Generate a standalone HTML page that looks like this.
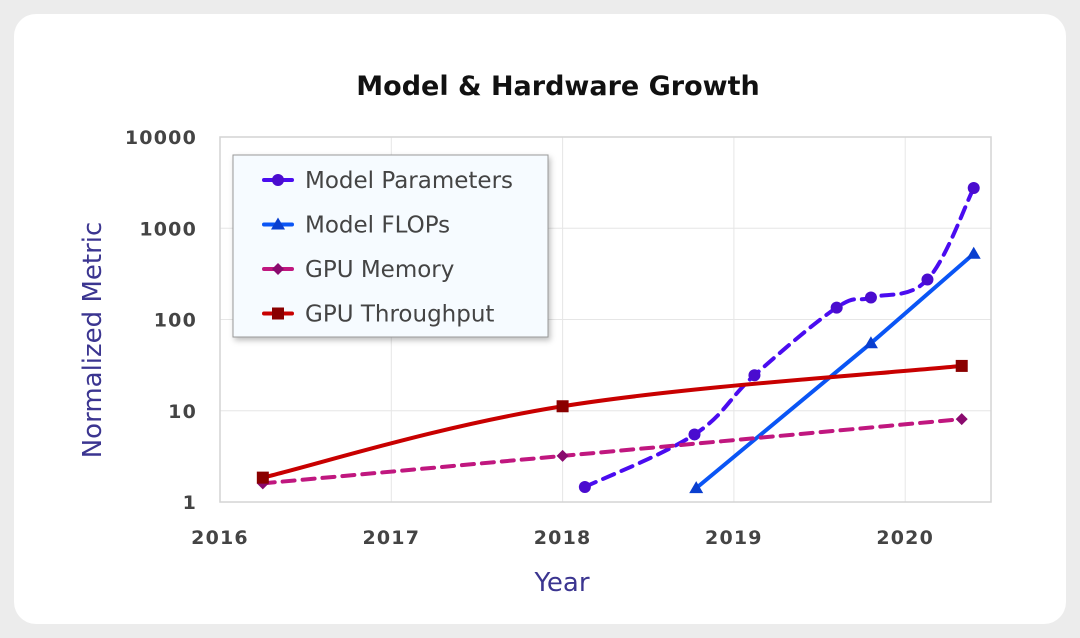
<!DOCTYPE html>
<html><head><meta charset="utf-8"><style>
body{margin:0;background:#ececec;width:1080px;height:638px;overflow:hidden;font-family:"DejaVu Sans","Liberation Sans",sans-serif}
#card{position:absolute;left:14px;top:14px;width:1052px;height:610px;background:#fff;border-radius:22px}
svg{position:absolute;left:0;top:0}
</style></head><body>
<div id="card"></div>
<svg id="c" width="1080" height="638"></svg>
<script>
const yearTicks=[2016,2017,2018,2019,2020];
const valueTicks=[1,10,100,1000,10000];
const paramYears=[2018.13,2018.77,2019.12,2019.6,2019.8,2020.13,2020.4];
const paramValues=[1.46,5.5,24.5,135,174,274,2760];
const flopYears=[2018.78,2019.8,2020.4];
const flopValues=[1.42,55,525];
const memYears=[2016.25,2018,2020.33];
const memValues=[1.6,3.2,8.1];
const tputYears=[2016.25,2018,2020.33];
const tputValues=[1.85,11.2,31];
const L=220,R=991,T=137,B=502;
const X=y=>L+(y-2016)*171.3;
const Y=v=>B-Math.log10(v)*91.25;
const svg=document.getElementById('c');const NS='http://www.w3.org/2000/svg';
function el(t,a,p){const e=document.createElementNS(NS,t);for(const k in a)e.setAttribute(k,a[k]);(p||svg).appendChild(e);return e;}
function txt(s,a){const e=el('text',a);e.textContent=s;return e;}
let t=txt('Model & Hardware Growth',{x:558,y:95,'text-anchor':'middle','font-size':27,'font-weight':'bold',fill:'#111'});


valueTicks.forEach(v=>{const l=el('line',{x1:L,x2:R,y1:Y(v),y2:Y(v),stroke:'#e6e6e6','stroke-width':1});


const tt=txt(String(v),{x:197,y:Y(v)+7,'text-anchor':'end','font-size':19,'font-weight':'bold','letter-spacing':1.2,fill:'#444'});

});
yearTicks.forEach(y=>{const l=el('line',{x1:X(y),x2:X(y),y1:T,y2:B,stroke:'#e6e6e6','stroke-width':1});


const tt=txt(String(y),{x:X(y),y:544,'text-anchor':'middle','font-size':19,'font-weight':'bold','letter-spacing':1.2,fill:'#444'});

});
const fr=el('rect',{x:L,y:T,width:R-L,height:B-T,fill:'none',stroke:'#d4d4d4','stroke-width':1.5});


t=txt('Year',{x:562,y:591,'text-anchor':'middle','font-size':26,fill:'#3b3590'});


t=txt('Normalized Metric',{x:0,y:0,transform:'translate(101,340) rotate(-90)','text-anchor':'middle','font-size':26,fill:'#3b3590'});


function smooth(pts){let d='M'+pts[0][0]+','+pts[0][1];for(let i=0;i<pts.length-1;i++){const p0=pts[i-1]||pts[i],p1=pts[i],p2=pts[i+1],p3=pts[i+2]||p2;const k=0.18;
d+=` C${p1[0]+(p2[0]-p0[0])*k},${p1[1]+(p2[1]-p0[1])*k} ${p2[0]-(p3[0]-p1[0])*k},${p2[1]-(p3[1]-p1[1])*k} ${p2[0]},${p2[1]}`;}return d;}
function marker(type,x,y,c,g){let m;
if(type==='circle')m=el('circle',{cx:x,cy:y,r:6,fill:c},g);
else if(type==='tri')m=el('path',{d:`M${x},${y-7} L${x+7},${y+5} L${x-7},${y+5}Z`,fill:c},g);
else if(type==='diamond')m=el('path',{d:`M${x},${y-6} L${x+6},${y} L${x},${y+6} L${x-6},${y}Z`,fill:c},g);
else m=el('rect',{x:x-6,y:y-6,width:12,height:12,fill:c},g);return m;}
const series=[
{name:'model-parameters',xs:paramYears,vs:paramValues,c:'#4a0cf0',m:'#4a0ccf',dash:'12 8',w:4,mk:'circle',sm:true},
{name:'model-flops',xs:flopYears,vs:flopValues,c:'#0a55f5',m:'#0a3fcf',dash:'',w:4,mk:'tri',sm:false},
{name:'gpu-memory',xs:memYears,vs:memValues,c:'#c0177f',m:'#8a0a6e',dash:'12 8',w:4,mk:'diamond',sm:true},
{name:'gpu-throughput',xs:tputYears,vs:tputValues,c:'#c80000',m:'#8a0000',dash:'',w:4,mk:'square',sm:true}];
series.forEach(s=>{const g=el('g',{});


const pts=s.xs.map((x,i)=>[X(x),Y(s.vs[i])]);
const p=el('path',{d:s.sm?smooth(pts):'M'+pts.map(q=>q.join(',')).join(' L'),fill:'none',stroke:s.c,'stroke-width':s.w,'stroke-dasharray':s.dash,'stroke-linecap':'round'},g);


pts.forEach(q=>{const m=marker(s.mk,q[0],q[1],s.m,g);

});});
const lg=el('g',{});


el('rect',{x:233,y:155,width:315,height:182,fill:'#f6fbff',stroke:'#999','stroke-width':1,filter:'drop-shadow(2px 3px 3px rgba(0,0,0,0.25))'},lg);
series.forEach((s,i)=>{const y=180+i*44.5;const e=el('g',{},lg);


el('line',{x1:264,x2:292,y1:y,y2:y,stroke:s.c,'stroke-width':4,'stroke-linecap':'round'},e);
marker(s.mk,278,y,s.m,e);
const tt=el('text',{x:305,y:y+8,'font-size':23,fill:'#444'},e);tt.textContent=['Model Parameters','Model FLOPs','GPU Memory','GPU Throughput'][i];});
</script></body></html>
